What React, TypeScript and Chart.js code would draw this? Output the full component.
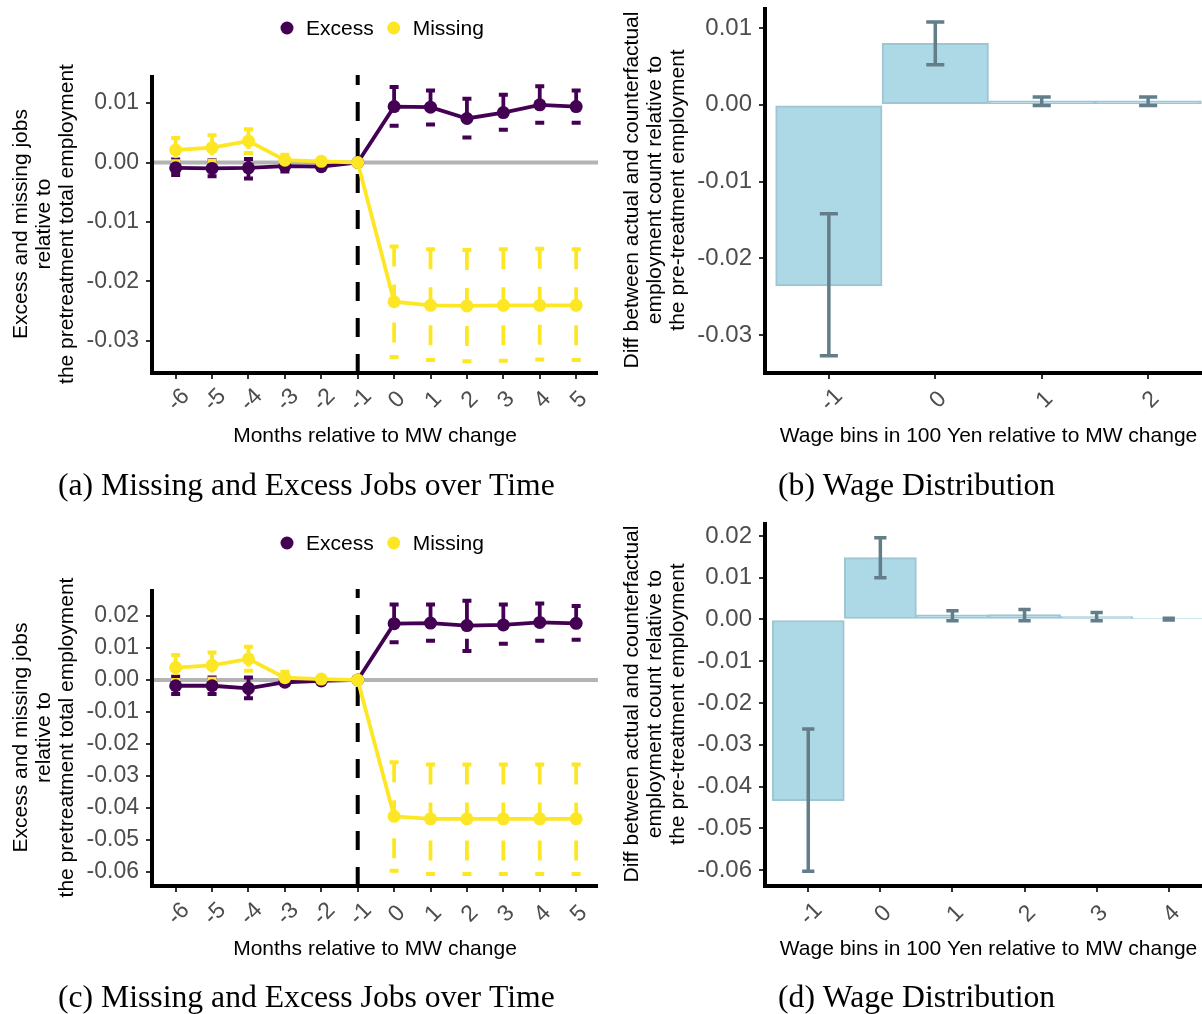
import React, { useEffect, useRef } from "react";
import { Chart, registerables } from "chart.js";

Chart.register(...registerables);

// ---------------- data ----------------
const months = [-6, -5, -4, -3, -2, -1, 0, 1, 2, 3, 4, 5];
const monthLabels = ["-6", "-5", "-4", "-3", "-2", "-1", "0", "1", "2", "3", "4", "5"];
const seriesNames = ["Excess", "Missing"];

// Panel (a)
const excessA = [-0.0009, -0.001, -0.0009, -0.0006, -0.0007, 0, 0.0094, 0.0093, 0.0074, 0.0084, 0.0097, 0.0094];
const excessLowA = [-0.0021, -0.0023, -0.0027, -0.0015, -0.0011, 0, 0.0062, 0.0064, 0.0042, 0.0055, 0.0067, 0.0067];
const excessHighA = [0.0005, 0.0004, 0.0006, 0.0, -0.0003, 0, 0.0127, 0.0121, 0.0107, 0.0114, 0.0128, 0.0121];
const missingA = [0.0021, 0.0025, 0.0036, 0.0004, 0.0002, 0, -0.0234, -0.024, -0.0241, -0.024, -0.024, -0.024];
const missingLowA = [0.0002, 0.0003, 0.0016, -0.0004, -0.0001, 0, -0.0327, -0.0332, -0.0334, -0.0333, -0.0331, -0.0332];
const missingHighA = [0.0041, 0.0046, 0.0056, 0.0013, 0.0005, 0, -0.0141, -0.0146, -0.0147, -0.0146, -0.0145, -0.0146];
const yTickLabelsA = ["0.01", "0.00", "-0.01", "-0.02", "-0.03"];

// Panel (c)
const excessC = [-0.0018, -0.0018, -0.0026, -0.0007, -0.0003, 0, 0.0176, 0.0178, 0.017, 0.0172, 0.018, 0.0177];
const excessLowC = [-0.0044, -0.0044, -0.0057, -0.0016, -0.0007, 0, 0.0118, 0.0123, 0.0091, 0.0113, 0.0123, 0.0126];
const excessHighC = [0.001, 0.0008, 0.0008, 0.0002, 0.0001, 0, 0.0236, 0.0236, 0.0248, 0.0236, 0.0239, 0.0231];
const missingC = [0.0039, 0.0046, 0.0066, 0.0007, 0.0003, 0, -0.0426, -0.0434, -0.0434, -0.0434, -0.0434, -0.0434];
const missingLowC = [0.0, 0.0004, 0.0029, -0.001, -0.0002, 0, -0.0596, -0.0606, -0.0606, -0.0606, -0.0606, -0.0606];
const missingHighC = [0.0078, 0.0086, 0.0104, 0.0026, 0.0008, 0, -0.0257, -0.0264, -0.0264, -0.0264, -0.0264, -0.0264];
const yTickLabelsC = ["0.02", "0.01", "0.00", "-0.01", "-0.02", "-0.03", "-0.04", "-0.05", "-0.06"];

// Panel (b)
const wageBinsB = [-1, 0, 1, 2];
const wageLabelsB = ["-1", "0", "1", "2"];
const diffB = [-0.0236, 0.008, 0.0005, 0.0005];
const diffLowB = [-0.0327, 0.0052, -0.0001, -0.0001];
const diffHighB = [-0.0142, 0.0108, 0.001, 0.001];
const yTickLabelsB = ["0.01", "0.00", "-0.01", "-0.02", "-0.03"];

// Panel (d)
const wageBinsD = [-1, 0, 1, 2, 3, 4];
const wageLabelsD = ["-1", "0", "1", "2", "3", "4"];
const diffD = [-0.0434, 0.0148, 0.0011, 0.0012, 0.0007, 0.0002];
const diffLowD = [-0.0603, 0.01, -0.0003, -0.0003, -0.0003, -0.0001];
const diffHighD = [-0.0262, 0.0196, 0.0021, 0.0024, 0.0017, 0.0003];
const yTickLabelsD = ["0.02", "0.01", "0.00", "-0.01", "-0.02", "-0.03", "-0.04", "-0.05", "-0.06"];

const yTitleLine = ["Excess and missing jobs", "relative to", "the pretreatment total employment"];
const yTitleBar = ["Diff between actual and counterfactual", "employment count relative to", "the pre-treatment employment"];
const xTitleLine = "Months relative to MW change";
const xTitleBar = "Wage bins in 100 Yen relative to MW change";
const captions = [
  "(a) Missing and Excess Jobs over Time",
  "(b) Wage Distribution",
  "(c) Missing and Excess Jobs over Time",
  "(d) Wage Distribution",
];

// ---------------- styles ----------------
const SANS = "'Liberation Sans', Arial, Helvetica, sans-serif";
const SERIF = "'Liberation Serif', 'Times New Roman', serif";
const TICK_TXT = "#4d4d4d";
const PURPLE = "#440154";
const YELLOW = "#FDE725";
const BAR_FILL = "#ADD8E6";
const BAR_EDGE = "#9dc6d3";
const ERR_COL = "#637e89";

let captionSize = 0;
function getCaptionSize(ctx: CanvasRenderingContext2D) {
  if (!captionSize) {
    ctx.save();
    ctx.font = `100px ${SERIF}`;
    const w = ctx.measureText(captions[0]).width;
    ctx.restore();
    captionSize = (100 * 497) / w;
  }
  return captionSize;
}

type Series = { name: string; color: string; y: number[]; lo: number[]; hi: number[] };
type Spec = {
  kind: "line" | "bar";
  box: { x: number; y: number; w: number; h: number };
  area: { l: number; t: number; r: number; b: number };
  xRange: [number, number];
  yRange: [number, number];
  xValues: number[];
  xLabels: string[];
  yLabels: string[];
  series: Series[];
  yTitle: string[];
  yTitleX: number;
  yTitleLH: number;
  yTitleFont: number;
  xTitle: string;
  xTitleY: number;
  xLabelDY: number;
  caption: string;
  captionX: number;
  captionY: number;
  legend?: { x: number; y: number };
  tickFont: number;
  vline?: number;
};

const specA: Spec = {
  kind: "line",
  box: { x: 0, y: 0, w: 610, h: 510 },
  area: { l: 152, t: 75, r: 598, b: 373 },
  xRange: [-6.65, 5.6],
  yRange: [-0.03538, 0.01471],
  xValues: months,
  xLabels: monthLabels,
  yLabels: yTickLabelsA,
  series: [
    { name: seriesNames[0], color: PURPLE, y: excessA, lo: excessLowA, hi: excessHighA },
    { name: seriesNames[1], color: YELLOW, y: missingA, lo: missingLowA, hi: missingHighA },
  ],
  yTitle: yTitleLine,
  yTitleX: 44,
  yTitleLH: 23,
  yTitleFont: 21,
  xTitle: xTitleLine,
  xTitleY: 436,
  xLabelDY: 27,
  caption: captions[0],
  captionX: 58,
  captionY: 495,
  legend: { x: 281, y: 28 },
  tickFont: 23,
  vline: -1,
};

const specC: Spec = {
  ...specA,
  box: { x: 0, y: 515, w: 610, h: 499 },
  area: { l: 152, t: 589, r: 598, b: 886 },
  yRange: [-0.06438, 0.02844],
  yLabels: yTickLabelsC,
  series: [
    { name: seriesNames[0], color: PURPLE, y: excessC, lo: excessLowC, hi: excessHighC },
    { name: seriesNames[1], color: YELLOW, y: missingC, lo: missingLowC, hi: missingHighC },
  ],
  xTitleY: 949,
  xLabelDY: 28,
  caption: captions[2],
  captionY: 1007,
  legend: { x: 281, y: 543 },
};

const specB: Spec = {
  kind: "bar",
  box: { x: 615, y: -30, w: 620, h: 540 },
  area: { l: 765, t: 7, r: 1212, b: 373 },
  xRange: [-1.6, 2.6],
  yRange: [-0.03495, 0.01274],
  xValues: wageBinsB,
  xLabels: wageLabelsB,
  yLabels: yTickLabelsB,
  series: [{ name: "diff", color: BAR_FILL, y: diffB, lo: diffLowB, hi: diffHighB }],
  yTitle: yTitleBar,
  yTitleX: 655,
  yTitleLH: 23,
  yTitleFont: 21,
  xTitle: xTitleBar,
  xTitleY: 436,
  xLabelDY: 27,
  caption: captions[1],
  captionX: 778,
  captionY: 495,
  tickFont: 24,
};

const specD: Spec = {
  ...specB,
  box: { x: 615, y: 495, w: 620, h: 519 },
  area: { l: 765, t: 522, r: 1212, b: 886 },
  xRange: [-1.6, 4.6],
  yRange: [-0.06383, 0.02335],
  xValues: wageBinsD,
  xLabels: wageLabelsD,
  yLabels: yTickLabelsD,
  series: [{ name: "diff", color: BAR_FILL, y: diffD, lo: diffLowD, hi: diffHighD }],
  xTitleY: 949,
  xLabelDY: 28,
  caption: captions[3],
  captionY: 1007,
};

const specs = [specA, specB, specC, specD];

function makeDecor(s: Spec) {
  const ox = s.box.x;
  const oy = s.box.y;
  return {
    id: "decor",
    beforeDatasetsDraw(chart: any) {
      const ctx: CanvasRenderingContext2D = chart.ctx;
      const xs = chart.scales.x;
      const ys = chart.scales.y;
      const a = chart.chartArea;
      ctx.save();
      if (s.kind === "line") {
        const y0 = ys.getPixelForValue(0);
        ctx.strokeStyle = "#b3b3b3";
        ctx.lineWidth = 4;
        ctx.beginPath();
        ctx.moveTo(a.left, y0);
        ctx.lineTo(a.right, y0);
        ctx.stroke();
        if (s.vline !== undefined) {
          const vx = xs.getPixelForValue(s.vline);
          ctx.strokeStyle = "#000";
          ctx.lineWidth = 4;
          ctx.setLineDash([19, 17]);
          ctx.beginPath();
          ctx.moveTo(vx, a.bottom);
          ctx.lineTo(vx, a.top);
          ctx.stroke();
          ctx.setLineDash([]);
        }
        s.series.forEach((se) => {
          ctx.strokeStyle = se.color;
          s.xValues.forEach((xv, j) => {
            if (se.hi[j] === se.lo[j]) return;
            const px = xs.getPixelForValue(xv);
            const yh = ys.getPixelForValue(se.hi[j]);
            const yl = ys.getPixelForValue(se.lo[j]);
            ctx.lineWidth = 3.8;
            ctx.setLineDash([20, 18]);
            ctx.beginPath();
            ctx.moveTo(px, yh);
            ctx.lineTo(px, yl);
            ctx.stroke();
            ctx.setLineDash([]);
            ctx.lineWidth = 4;
            ctx.beginPath();
            ctx.moveTo(px - 4.5, yh);
            ctx.lineTo(px + 4.5, yh);
            ctx.moveTo(px - 4.5, yl);
            ctx.lineTo(px + 4.5, yl);
            ctx.stroke();
          });
        });
      }
      ctx.restore();
    },
    afterDatasetsDraw(chart: any) {
      const ctx: CanvasRenderingContext2D = chart.ctx;
      const xs = chart.scales.x;
      const ys = chart.scales.y;
      const a = chart.chartArea;
      ctx.save();
      if (s.kind === "bar") {
        const unit = xs.getPixelForValue(1) - xs.getPixelForValue(0);
        const hw = unit * 0.085;
        const se = s.series[0];
        ctx.strokeStyle = ERR_COL;
        ctx.lineWidth = 3.5;
        s.xValues.forEach((xv, j) => {
          const px = xs.getPixelForValue(xv);
          const yh = ys.getPixelForValue(se.hi[j]);
          const yl = ys.getPixelForValue(se.lo[j]);
          ctx.beginPath();
          ctx.moveTo(px, yh);
          ctx.lineTo(px, yl);
          ctx.moveTo(px - hw, yh);
          ctx.lineTo(px + hw, yh);
          ctx.moveTo(px - hw, yl);
          ctx.lineTo(px + hw, yl);
          ctx.stroke();
        });
      }
      // axis lines
      ctx.strokeStyle = "#000";
      ctx.lineWidth = 4;
      ctx.beginPath();
      ctx.moveTo(a.left, a.top);
      ctx.lineTo(a.left, a.bottom + 2);
      ctx.moveTo(a.left - 2, a.bottom);
      ctx.lineTo(a.right, a.bottom);
      ctx.stroke();
      ctx.restore();
    },
    afterDraw(chart: any) {
      const ctx: CanvasRenderingContext2D = chart.ctx;
      const xs = chart.scales.x;
      const a = chart.chartArea;
      ctx.save();
      // rotated x tick labels
      ctx.fillStyle = TICK_TXT;
      ctx.font = `23px ${SANS}`;
      ctx.textAlign = "center";
      ctx.textBaseline = "middle";
      s.xValues.forEach((xv, j) => {
        const px = xs.getPixelForValue(xv);
        ctx.save();
        ctx.translate(px + 3, a.bottom + s.xLabelDY);
        ctx.rotate(-Math.PI / 4);
        ctx.fillText(s.xLabels[j], 0, 0);
        ctx.restore();
      });
      // x title
      ctx.fillStyle = "#000";
      ctx.font = `21px ${SANS}`;
      ctx.fillText(s.xTitle, (a.left + a.right) / 2, s.xTitleY - oy);
      // y title
      ctx.save();
      ctx.translate(s.yTitleX - ox, (a.top + a.bottom) / 2);
      ctx.rotate(-Math.PI / 2);
      ctx.font = `${s.yTitleFont}px ${SANS}`;
      const n = s.yTitle.length;
      s.yTitle.forEach((line, i) => {
        ctx.fillText(line, 0, (i - (n - 1) / 2) * s.yTitleLH);
      });
      ctx.restore();
      // legend
      if (s.legend) {
        let x = s.legend.x - ox;
        const y = s.legend.y - oy;
        ctx.font = `21px ${SANS}`;
        ctx.textAlign = "left";
        s.series.forEach((se) => {
          ctx.fillStyle = se.color;
          ctx.beginPath();
          ctx.arc(x + 6, y, 6.5, 0, Math.PI * 2);
          ctx.fill();
          ctx.fillStyle = "#000";
          ctx.fillText(se.name, x + 25, y + 1);
          x += 25 + ctx.measureText(se.name).width + 14;
        });
      }
      // caption
      const cs = getCaptionSize(ctx);
      ctx.font = `${cs}px ${SERIF}`;
      ctx.fillStyle = "#000";
      ctx.textAlign = "left";
      ctx.textBaseline = "alphabetic";
      ctx.fillText(s.caption, s.captionX - ox, s.captionY - oy);
      ctx.restore();
    },
  };
}

function Panel({ spec }: { spec: Spec }) {
  const ref = useRef<HTMLCanvasElement | null>(null);
  useEffect(() => {
    const canvas = ref.current;
    if (!canvas) return;
    const s = spec;
    const ox = s.box.x;
    const oy = s.box.y;
    const yVals = s.yLabels.map(Number);
    const datasets: any[] =
      s.kind === "line"
        ? s.series.map((se, i) => ({
            type: "line",
            label: se.name,
            data: s.xValues.map((x, j) => ({ x, y: se.y[j] })),
            borderColor: se.color,
            backgroundColor: se.color,
            pointBackgroundColor: se.color,
            borderWidth: 3.8,
            pointRadius: 6.5,
            pointBorderWidth: 0,
            pointHoverRadius: 6.5,
            tension: 0,
            order: s.series.length - i,
          }))
        : [
            {
              type: "bar",
              label: s.series[0].name,
              data: s.xValues.map((x, j) => ({ x, y: s.series[0].y[j] })),
              backgroundColor: BAR_FILL,
              borderColor: BAR_EDGE,
              borderWidth: 2,
              borderSkipped: false,
              barPercentage: 1,
              categoryPercentage: 1,
            },
          ];
    const chart = new Chart(canvas, {
      type: s.kind,
      data: { datasets },
      options: {
        animation: false,
        responsive: false,
        devicePixelRatio: 1,
        events: [],
        layout: {
          padding: { left: 0, top: s.area.t - oy, right: ox + s.box.w - s.area.r, bottom: 0 },
        },
        plugins: { legend: { display: false }, tooltip: { enabled: false }, title: { display: false } },
        scales: {
          x: {
            type: "linear",
            offset: false,
            min: s.xRange[0],
            max: s.xRange[1],
            afterBuildTicks: (sc: any) => {
              sc.ticks = s.xValues.map((v) => ({ value: v }));
            },
            afterFit: (sc: any) => {
              sc.height = oy + s.box.h - s.area.b;
            },
            ticks: { display: false },
            grid: {
              display: true,
              offset: false,
              drawOnChartArea: false,
              drawTicks: true,
              tickLength: 6,
              color: "#333333",
              lineWidth: 2,
            },
            border: { display: false },
          },
          y: {
            type: "linear",
            min: s.yRange[0],
            max: s.yRange[1],
            afterBuildTicks: (sc: any) => {
              sc.ticks = yVals.map((v) => ({ value: v }));
            },
            afterFit: (sc: any) => {
              sc.width = s.area.l - ox;
            },
            ticks: {
              autoSkip: false,
              callback: (_v: any, i: number) => s.yLabels[i],
              color: TICK_TXT,
              font: { family: SANS, size: s.tickFont },
              padding: 7,
            },
            grid: { display: true, drawOnChartArea: false, drawTicks: true, tickLength: 6, color: "#333333", lineWidth: 2 },
            border: { display: false },
          },
        },
      } as any,
      plugins: [makeDecor(s)],
    });
    return () => chart.destroy();
  }, [spec]);
  return (
    <canvas
      ref={ref}
      width={spec.box.w}
      height={spec.box.h}
      style={{ position: "absolute", left: spec.box.x, top: spec.box.y, width: spec.box.w, height: spec.box.h }}
    />
  );
}

export default function App() {
  return (
    <div
      style={{
        position: "fixed",
        left: 0,
        top: 0,
        width: 1202,
        height: 1014,
        overflow: "hidden",
        background: "#ffffff",
      }}
    >
      {specs.map((s, i) => (
        <Panel key={i} spec={s} />
      ))}
    </div>
  );
}
